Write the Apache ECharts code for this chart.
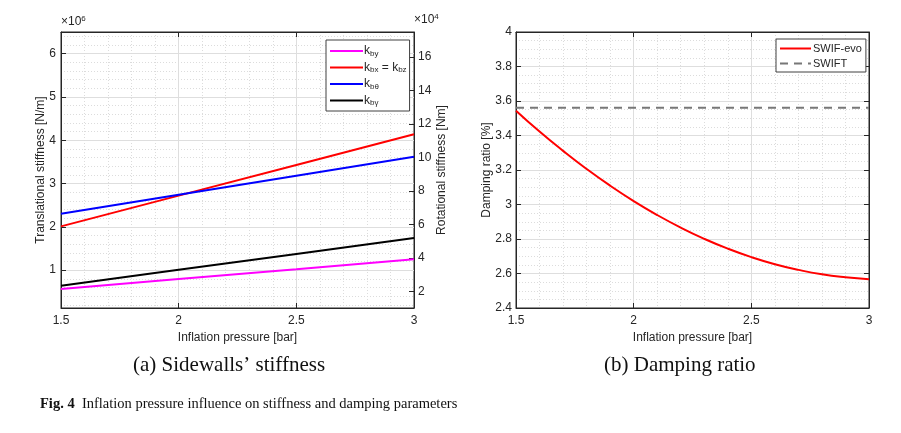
<!DOCTYPE html>
<html><head><meta charset="utf-8">
<script src="https://cdn.jsdelivr.net/npm/echarts@6/dist/echarts.min.js"></script>
<style>html,body{margin:0;padding:0;background:#fff}#c{width:901px;height:433px}</style>
</head><body><div id="c"></div>
<script>
// ---- data ----
const pressure = [1.5, 2, 2.5, 3];
const kBy = [0.564, 0.793, 1.02, 1.25];          // x10^6 N/m
const kBxBz = [2.01, 2.72, 3.43, 4.14];          // x10^6 N/m
const kBTheta = [6.64, 7.77, 8.90, 10.04];       // x10^4 Nm
const kBGamma = [2.33, 3.28, 4.23, 5.18];        // x10^4 Nm
const pressureFine = [1.5,1.6,1.7,1.8,1.9,2.0,2.1,2.2,2.3,2.4,2.5,2.6,2.7,2.8,2.9,3.0];
const swifEvo = [3.544,3.423,3.311,3.206,3.109,3.020,2.939,2.866,2.801,2.744,2.695,2.654,2.621,2.595,2.578,2.567];
const swift = [3.561, 3.561];
const swiftX = [1.5, 3];

const font = 'Liberation Sans, Arial, Helvetica, sans-serif';
const ink = '#262626';
const majorGrid = {show: true, lineStyle: {color: '#dedede', width: 1}};
const minorGrid = {show: true, lineStyle: {color: '#dcdcdc', width: 1, type: [1, 2]}};
const lbl = {color: ink, fontFamily: font, fontSize: 12};
const nameStyle = {color: ink, fontFamily: font, fontSize: 12};
const zip = (xs, ys) => xs.map((x, i) => [x, ys[i]]);

function xAx(gi, main) {
  return {
    type: 'value', gridIndex: gi, min: 1.5, max: 3, interval: 0.5,
    position: main ? 'bottom' : 'top',
    axisLine: {show: true, onZero: false, lineStyle: {color: ink}},
    axisTick: {show: true, inside: true, length: 5, lineStyle: {color: ink}},
    axisLabel: main ? Object.assign({show: true, margin: 7, formatter: v => String(v)}, lbl) : {show: false},
    splitLine: main ? majorGrid : {show: false},
    minorTick: {show: false, splitNumber: 5},
    minorSplitLine: main ? minorGrid : {show: false},
    name: main ? 'Inflation pressure [bar]' : '', nameLocation: 'middle', nameGap: 22,
    nameTextStyle: nameStyle
  };
}

const legendRich = {
  sub: {fontSize: 8, fontFamily: font, color: ink, padding: [5, 0, 0, 0]},
  n: {fontSize: 12, fontFamily: font, color: ink}
};
const legendNames = {
  'kby': '{n|k}{sub|by}',
  'kbxbz': '{n|k}{sub|bx}{n| = k}{sub|bz}',
  'kbtheta': '{n|k}{sub|bθ}',
  'kbgamma': '{n|k}{sub|bγ}'
};

const option = {
  animation: false,
  backgroundColor: '#fff',
  grid: [
    {left: 61, right: 487, top: 32, bottom: 125, show: true, borderColor: ink, borderWidth: 1},
    {left: 516, right: 32, top: 32, bottom: 125, show: true, borderColor: ink, borderWidth: 1}
  ],
  xAxis: [xAx(0, true), xAx(0, false), xAx(1, true), xAx(1, false)],
  yAxis: [
    {type: 'value', gridIndex: 0, min: 0.125, max: 6.5, splitNumber: 6, position: 'left',
     axisLine: {show: true, lineStyle: {color: ink}},
     axisTick: {show: true, inside: true, length: 5, lineStyle: {color: ink}},
     axisLabel: Object.assign({showMinLabel: false, showMaxLabel: false, margin: 5}, lbl),
     splitLine: majorGrid, minorTick: {show: false, splitNumber: 5}, minorSplitLine: minorGrid,
     name: 'Translational stiffness [N/m]', nameLocation: 'middle', nameGap: 14, nameMoveOverlap: false,
     nameTextStyle: nameStyle},
    {type: 'value', gridIndex: 0, min: 1, max: 17.5, splitNumber: 8, position: 'right',
     axisLine: {show: true, lineStyle: {color: ink}},
     axisTick: {show: true, inside: true, length: 5, lineStyle: {color: ink}},
     axisLabel: Object.assign({showMinLabel: false, showMaxLabel: false, margin: 4}, lbl),
     splitLine: {show: false},
     name: 'Rotational stiffness [Nm]', nameLocation: 'middle', nameGap: 22, nameRotate: 90, nameMoveOverlap: false,
     nameTextStyle: nameStyle},
    {type: 'value', gridIndex: 1, min: 2.4, max: 4, interval: 0.2, position: 'left',
     axisLine: {show: true, lineStyle: {color: ink}},
     axisTick: {show: true, inside: true, length: 5, lineStyle: {color: ink}},
     axisLabel: Object.assign({margin: 4, formatter: v => String(Math.round(v * 10) / 10)}, lbl),
     splitLine: majorGrid, minorTick: {show: false, splitNumber: 4}, minorSplitLine: minorGrid,
     name: 'Damping ratio [%]', nameLocation: 'middle', nameGap: 23, nameMoveOverlap: false,
     nameTextStyle: nameStyle},
    {type: 'value', gridIndex: 1, min: 2.4, max: 4, interval: 0.2, position: 'right',
     axisLine: {show: true, lineStyle: {color: ink}},
     axisTick: {show: true, inside: true, length: 5, lineStyle: {color: ink}},
     axisLabel: {show: false}, splitLine: {show: false}}
  ],
  legend: [
    {left: 326, top: 40, orient: 'vertical', itemWidth: 33, itemHeight: 10, itemGap: 4,
     padding: [5, 3, 4, 3], backgroundColor: '#fff', borderColor: '#404040', borderWidth: 1,
     itemStyle: {opacity: 0},
     data: ['kby', 'kbxbz', 'kbtheta', 'kbgamma'],
     formatter: n => legendNames[n], textStyle: {rich: legendRich, padding: [0, 0, 0, -4]}},
    {left: 776, top: 39, orient: 'vertical', itemWidth: 31, itemHeight: 10, itemGap: 4,
     padding: [4, 4, 3, 3], backgroundColor: '#fff', borderColor: '#404040', borderWidth: 1,
     itemStyle: {opacity: 0},
     data: ['SWIF-evo', 'SWIFT'],
     textStyle: {color: ink, fontFamily: font, fontSize: 11, padding: [0, 0, 0, -3]}}
  ],
  series: [
    {name: 'kby', type: 'line', xAxisIndex: 0, yAxisIndex: 0, data: zip(pressure, kBy),
     symbol: 'none', lineStyle: {color: '#ff00ff', width: 2}, itemStyle: {color: '#ff00ff'}},
    {name: 'kbxbz', type: 'line', xAxisIndex: 0, yAxisIndex: 0, data: zip(pressure, kBxBz),
     symbol: 'none', lineStyle: {color: '#ff0000', width: 2}, itemStyle: {color: '#ff0000'}},
    {name: 'kbtheta', type: 'line', xAxisIndex: 0, yAxisIndex: 1, data: zip(pressure, kBTheta),
     symbol: 'none', lineStyle: {color: '#0000ff', width: 2}, itemStyle: {color: '#0000ff'}},
    {name: 'kbgamma', type: 'line', xAxisIndex: 0, yAxisIndex: 1, data: zip(pressure, kBGamma),
     symbol: 'none', lineStyle: {color: '#000000', width: 2}, itemStyle: {color: '#000000'}},
    {name: 'SWIF-evo', type: 'line', xAxisIndex: 2, yAxisIndex: 2, data: zip(pressureFine, swifEvo),
     smooth: true, symbol: 'none', lineStyle: {color: '#ff0000', width: 2}, itemStyle: {color: '#ff0000'}},
    {name: 'SWIFT', type: 'line', xAxisIndex: 2, yAxisIndex: 2, data: zip(swiftX, swift),
     symbol: 'none', lineStyle: {color: '#777777', width: 2, type: [8, 6]}, itemStyle: {color: '#777777'}}
  ],
  graphic: [
    {type: 'text', left: 61, top: 15, style: {text: '×10{s|6}', fill: ink, font: '12px ' + font,
      rich: {s: {fontSize: 8, fontFamily: font, fill: ink, padding: [0, 0, 6, 0]}}}},
    {type: 'text', left: 414, top: 13, style: {text: '×10{s|4}', fill: ink, font: '12px ' + font,
      rich: {s: {fontSize: 8, fontFamily: font, fill: ink, padding: [0, 0, 6, 0]}}}},
    {type: 'text', left: 133, top: 355, style: {text: "(a) Sidewalls’ stiffness", fill: '#111',
      font: '21px "Liberation Serif", "Times New Roman", serif'}},
    {type: 'text', left: 604, top: 355, style: {text: '(b) Damping ratio', fill: '#111',
      font: '21px "Liberation Serif", "Times New Roman", serif'}},
    {type: 'text', left: 40, top: 397, style: {text: '{b|Fig. 4}  Inflation pressure influence on stiffness and damping parameters',
      fill: '#111', font: '14.5px "Liberation Serif", "Times New Roman", serif',
      rich: {b: {fontWeight: 'bold', fontSize: 14.5, fontFamily: '"Liberation Serif", serif', fill: '#111'}}}}
  ]
};
const chart = echarts.init(document.getElementById('c'), null, {renderer: 'canvas'});
chart.setOption(option);
</script></body></html>
